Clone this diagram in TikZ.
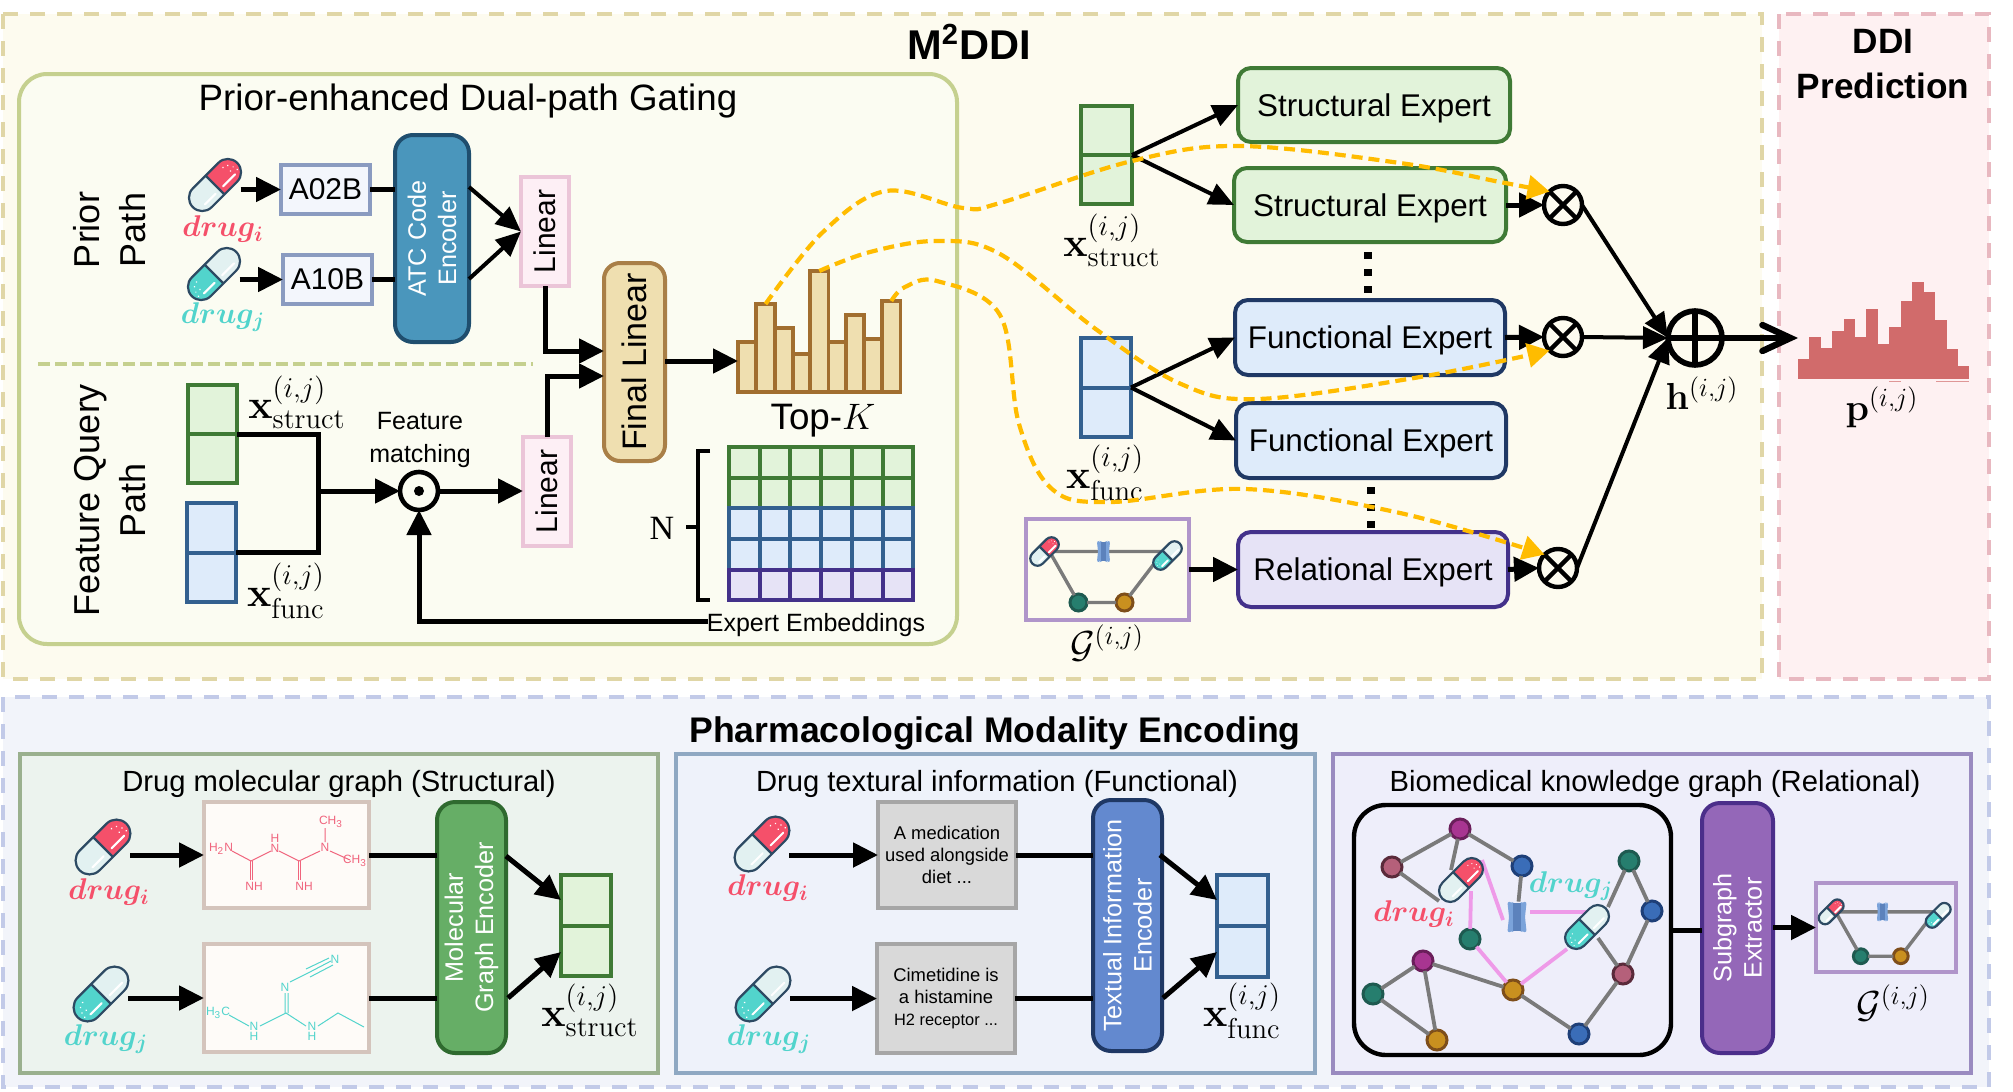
\RequirePackage{fix-cm}
\documentclass[tikz,border=0pt]{standalone}
\usepackage{amsmath}
\usepackage[no-math]{fontspec}
\setmainfont{Liberation Sans}
\newfontfamily\serfam{Liberation Serif}
\usetikzlibrary{arrows.meta}
\definecolor{topfill}{HTML}{FDFBEF}\definecolor{topdash}{HTML}{E0D6A6}
\definecolor{predfill}{HTML}{FEF1F2}\definecolor{preddash}{HTML}{E8B8C0}
\definecolor{botfill}{HTML}{F2F4FA}\definecolor{botdash}{HTML}{C2CAE8}
\definecolor{gatefill}{HTML}{FBFCF2}\definecolor{gatestroke}{HTML}{C5D08F}
\definecolor{grF}{HTML}{E2F3DA}\definecolor{grS}{HTML}{3F7A35}
\definecolor{blF}{HTML}{DEEBFA}\definecolor{blS}{HTML}{33608F}\definecolor{blD}{HTML}{1F3864}
\definecolor{puF}{HTML}{E6E3F6}\definecolor{puS}{HTML}{43318A}
\definecolor{tanF}{HTML}{EFDFB0}\definecolor{tanS}{HTML}{A97F47}\definecolor{barS}{HTML}{A16E2F}
\definecolor{linF}{HTML}{FDEFF5}\definecolor{linS}{HTML}{EBC5D8}
\definecolor{atcF}{HTML}{4A96BC}\definecolor{atcS}{HTML}{1F4E6E}
\definecolor{codeF}{HTML}{F3F6FC}\definecolor{codeS}{HTML}{8A9BC0}
\definecolor{pinkT}{HTML}{F5506A}\definecolor{cyanT}{HTML}{52D4CC}
\definecolor{paleT}{HTML}{E2F1F1}\definecolor{pillS}{HTML}{2D4A63}
\definecolor{yel}{HTML}{FFBC00}\definecolor{histc}{HTML}{D16B6B}
\definecolor{gboxS}{HTML}{B095CA}
\definecolor{p1F}{HTML}{ECF3EE}\definecolor{p1S}{HTML}{9AB08E}
\definecolor{p2F}{HTML}{EEF2FA}\definecolor{p2S}{HTML}{8FA8C2}
\definecolor{p3F}{HTML}{EEEEFA}\definecolor{p3S}{HTML}{9A8BC0}
\definecolor{molF}{HTML}{FEFBF8}\definecolor{molS}{HTML}{D4C4BC}
\definecolor{txtF}{HTML}{D9D9D9}\definecolor{txtS}{HTML}{A6A6A6}
\definecolor{enc1F}{HTML}{66AE66}\definecolor{enc1S}{HTML}{2F6A2F}
\definecolor{enc2F}{HTML}{6389CF}\definecolor{enc3F}{HTML}{9467B8}\definecolor{enc3S}{HTML}{4B2E8A}
\definecolor{molP}{HTML}{F0647D}\definecolor{molC}{HTML}{52D4CC}
\definecolor{edgeG}{HTML}{7A7A7A}\definecolor{edgeP}{HTML}{EE9AE8}
\definecolor{tealF}{HTML}{267E6E}\definecolor{tealS}{HTML}{1E5A50}
\definecolor{goldF}{HTML}{C9901F}\definecolor{goldS}{HTML}{7E4E1A}
\definecolor{magF}{HTML}{A83591}\definecolor{magS}{HTML}{6A1E5A}
\definecolor{roseF}{HTML}{B5607A}\definecolor{roseS}{HTML}{5A2A3A}
\definecolor{bluF}{HTML}{3A6DB8}\definecolor{bluS}{HTML}{1E3F78}
\definecolor{protA}{HTML}{7BA3DA}\definecolor{protB}{HTML}{5C82BC}
\newcommand{\fsz}[1]{\fontsize{#1}{#1}\selectfont}
\newcommand{\bx}[7]{%
 \pgfmathsetmacro{\bxc}{(#2+#4)/2}\pgfmathsetmacro{\byc}{(#3+#5)/2}%
 \pgfmathsetmacro{\bwd}{(#4-#2)/2}\pgfmathsetmacro{\bht}{(#5-#3)/2}%
 \node[#6,minimum width=\bwd pt,minimum height=\bht pt] (#1) at (\bxc,\byc) {#7};}
\newcommand{\rbx}[7]{%
 \pgfmathsetmacro{\bxc}{(#2+#4)/2}\pgfmathsetmacro{\byc}{(#3+#5)/2}%
 \pgfmathsetmacro{\bwd}{(#4-#2)/2}\pgfmathsetmacro{\bht}{(#5-#3)/2}%
 \node[#6,rotate=90,minimum width=\bht pt,minimum height=\bwd pt] (#1) at (\bxc,\byc) {#7};}
% pill art: name x y scale kind(1=red right, 0=cyan left)
\newcommand{\pill}[5]{%
 \pgfmathsetmacro{\psz}{27*#4}%
 \node[minimum size=\psz pt,inner sep=0pt,outer sep=0pt] (#1) at (#2,#3) {};
 \begin{scope}[shift={(#2,#3)},x=0.5pt,y=0.5pt,rotate=45,scale=#4]
  \ifnum#5=1 \def\pcl{paleT}\def\pcr{pinkT}\def\pdx{1}\else \def\pcl{cyanT}\def\pcr{paleT}\def\pdx{-1}\fi
  \fill[\pcl] (0,-14) -- (-19,-14) arc[start angle=270,end angle=90,radius=14] -- (0,14) -- cycle;
  \fill[\pcr] (0,-14) -- (19,-14) arc[start angle=-90,end angle=90,radius=14] -- (0,14) -- cycle;
  \draw[white,line width=1pt,line cap=round] (5,-7) -- (23,-7);
  \draw[white,line width=1pt,line cap=round] (-22,-7) -- (-6,-7);
  \foreach \dxx/\dyy in {24/5,27/0,22/-1,19/7,28/-5}{\fill[white] (\pdx*\dxx,\dyy) circle[radius=0.9];}
  \draw[pillS,line width=1.1pt] (-19,-14) -- (19,-14) arc[start angle=-90,end angle=90,radius=14] -- (-19,14) arc[start angle=90,end angle=270,radius=14] -- cycle (0,-14) -- (0,14);
 \end{scope}}
% protein
\newcommand{\prot}[4]{%
 \node[inner sep=0pt,minimum width=12pt,minimum height=15pt] (#1) at (#2,#3) {};
 \begin{scope}[shift={(#2,#3)},x=0.5pt,y=0.5pt,scale=#4]
  \fill[protA,rounded corners=1pt] (-12,-19) -- (-7,-19) -- (-5,-17) -- (5,-17) -- (7,-19) -- (12,-19) -- (10,0) -- (12,19) -- (7,19) -- (5,17) -- (-5,17) -- (-7,19) -- (-12,19) -- (-10,0) -- cycle;
  \fill[protB] (-5,-17) rectangle (5,17);
 \end{scope}}
\newcommand{\smallG}[4]{%
 \coordinate (#1L) at ({#2-58*#4},{#3-18*#4});
 \coordinate (#1R) at ({#2+56*#4},{#3-18*#4});
 \pgfmathsetmacro{\gsz}{8.5*#4}%
 \pgfmathsetmacro{\gps}{0.52*#4}\pgfmathsetmacro{\gpr}{0.55*#4}%
 \node[kgn,fill=tealF,draw=tealS,minimum size=\gsz pt] (#1T) at ({#2-29*#4},{#3+33*#4}) {};
 \node[kgn,fill=goldF,draw=goldS,minimum size=\gsz pt] (#1O) at ({#2+17*#4},{#3+33*#4}) {};
 \draw[edgeG,line width=1.7pt] (#1L) -- (#1R) (#1L) -- (#1T) -- (#1O) -- (#1R);
 \pgfmathsetmacro{\gxa}{#2-63*#4}\pgfmathsetmacro{\gya}{#3-18*#4}%
 \pgfmathsetmacro{\gxb}{#2+60*#4}\pgfmathsetmacro{\gyb}{#3-14*#4}%
 \pgfmathsetmacro{\gxc}{#2-4*#4}%
 \pill{#1Lp}{\gxa}{\gya}{\gps}{1}
 \pill{#1Rp}{\gxb}{\gyb}{\gps}{0}
 \prot{#1Pp}{\gxc}{\gya}{\gpr}}
\tikzset{
 pbox/.style={draw,rectangle,inner sep=0pt,outer sep=0pt,align=center},
 rbox/.style={pbox,rounded corners=6.5pt,line width=2pt},
 codebox/.style={pbox,fill=codeF,draw=codeS,line width=2pt,font=\fsz{15}},
 linbox/.style={pbox,fill=linF,draw=linS,line width=2pt,font=\fsz{15}},
 expert/.style={rbox,font=\fsz{15.7},text depth=0pt},
 conn/.style={line width=2.5pt},
 arr/.style={line width=2.5pt,-{Triangle[length=12.5pt,width=12pt]}},
 arrt/.style={line width=2pt,-{Triangle[length=12.5pt,width=11pt]}},
 yarr/.style={yel,line width=2.1pt,dash pattern=on 5.5pt off 3pt,-{Triangle[length=11pt,width=12pt]}},
 plain/.style={inner sep=0pt,outer sep=0pt,align=center},
 mlab/.style={plain,font=\fsz{18.8}},
 xlab/.style={plain,font=\fsz{20.5}},
 drugl/.style={plain,font=\fsz{15}\boldmath},
 enctext/.style={rbox,text=white,font=\fsz{12.6},rounded corners=9pt},
 kgn/.style={circle,inner sep=0pt,outer sep=0pt,minimum size=10pt,line width=1.5pt,draw},
 opn/.style={circle,draw,inner sep=0pt,outer sep=0pt,line width=2.2pt,fill=topfill,minimum size=19pt},
 egr/.style={edgeG,line width=1.9pt},
 epk/.style={edgeP,line width=1.9pt},
 pan/.style={pbox,line width=1.6pt},
 outer/.style={line width=2pt,dash pattern=on 7.5pt off 6pt},
 dots3/.style={line width=4pt,dash pattern=on 3.5pt off 5pt},
}
\begin{document}
\begin{tikzpicture}[x=0.5pt,y=-0.5pt]
\useasboundingbox (0,0) rectangle (2013,1092);
\fill[white] (0,0) rectangle (2013,1092);
% outer panels
\draw[outer,draw=topdash,fill=topfill] (3,14) rectangle (1762,679);
\draw[outer,draw=preddash,fill=predfill] (1779,14) rectangle (1989,679);
\draw[outer,draw=botdash,fill=botfill] (3,697) rectangle (1989,1087);
\node[plain,font=\bfseries\fsz{20.8}] (mddi) at (969,42) {M\textsuperscript{2}DDI};
\node[plain,font=\bfseries\fsz{17.6}] (pred) at (1883,64) {DDI\\[5pt]Prediction};
\node[plain,font=\bfseries\fsz{17.8}] (pme) at (995,733) {Pharmacological Modality Encoding};
% gating panel
\bx{gate}{19}{74}{957}{644}{pbox,draw=gatestroke,fill=gatefill,line width=2pt,rounded corners=14pt}{}
\node[plain,font=\fsz{18.35}] (gatet) at (468,101) {Prior-enhanced Dual-path Gating};
\rbx{priorl}{70}{150}{150}{310}{plain,font=\fsz{18},align=center}{Prior\\[5pt]Path}
\rbx{fqpl}{70}{380}{150}{620}{plain,font=\fsz{18},align=center}{Feature Query\\[5pt]Path}
\coordinate (sepa) at (38,364); \coordinate (sepb) at (533,364);
\draw[gatestroke,line width=1.8pt,dash pattern=on 6pt off 2.5pt] (sepa) -- (sepb);
% prior path
\pill{pa}{215}{185}{0.95}{1}
\pill{pb}{214}{274}{0.95}{0}
\node[drugl,text=pinkT] (da) at (223,229) {$drug_i$};
\node[drugl,text=cyanT] (db) at (223,317) {$drug_j$};
\bx{a02}{281}{165}{370}{214}{codebox}{A02B}
\bx{a10}{283}{255}{372}{304}{codebox}{A10B}
\rbx{atc}{395}{135}{469}{342}{rbox,fill=atcF,draw=atcS,text=white,font=\fsz{12.6},rounded corners=9pt}{ATC Code\\[2.6pt]Encoder}
\rbx{linA}{521}{177}{569}{286}{linbox}{Linear}
\rbx{linB}{523}{437}{571}{546}{linbox}{Linear}
\rbx{finl}{604}{263}{665}{461}{pbox,rounded corners=8pt,fill=tanF,draw=tanS,line width=2pt,font=\fsz{17}}{Final Linear}
\draw[arr] (pa.east |- a02.west) -- (a02.west);
\draw[arr] (pb.east |- a10.west) -- (a10.west);
\draw[conn] (a02.east) -- (a02.east -| atc.north);
\draw[conn] (a10.east) -- (a10.east -| atc.north);
\coordinate (atcu) at (469,187); \coordinate (atcd) at (469,279);
\draw[arrt] (atcu) -- (linA.north);
\draw[arrt] (atcd) -- (linA.north);
\coordinate (fa) at (604,351); \coordinate (fb) at (604,376);
\draw[arr] (linA.west) |- (fa);
\draw[arr] (linB.east) |- (fb);
% bars
\foreach \nm/\xa/\xb/\ty in {b1/738/756/342,b2/756/775/304,b3/775/793/328,b4/793/810/354,b5/810/828.5/271,b6/828.5/846/342,b7/846/864/315,b8/864/882/339,b9/882/900.5/301}{
 \bx{\nm}{\xa}{\ty}{\xb}{392}{pbox,fill=tanF,draw=barS,line width=1.8pt}{}
}
\node[plain,font=\fsz{18.4}] (topk) at (823,421) {Top-$K$};
\coordinate (barin) at (738,361);
\draw[arr] (finl.south |- barin) -- (barin);
% feature query
\bx{fs}{188}{385}{237}{483}{pbox,fill=grF,draw=grS,line width=2pt}{}
\draw[grS,line width=2pt] (fs.west) -- (fs.east);
\bx{ff}{187}{503}{236}{602}{pbox,fill=blF,draw=blS,line width=2pt}{}
\draw[blS,line width=2pt] (ff.west) -- (ff.east);
\node[xlab] (fsl) at (297,402) {$\mathbf{x}^{(i,j)}_{\mathrm{struct}}$};
\node[xlab] (ffl) at (286,591) {$\mathbf{x}^{(i,j)}_{\mathrm{func}}$};
\node[plain,font=\fsz{12.5}] (fmat) at (420,440) {Feature\\[4pt]matching};
\node[circle,draw,inner sep=0pt,outer sep=0pt,line width=2.3pt,minimum size=19pt,fill=gatefill] (dot) at (419,491) {};
\fill (dot) circle[radius=5];
\coordinate (jn) at (318,491);
\draw[conn] (fs.east) -| (jn);
\draw[conn] (ff.east) -| (jn);
\draw[arr] (jn) -- (dot.west);
\draw[arr] (dot.east) -- (linB.north |- dot.east);
% embeddings
\foreach \ya/\yb/\fc/\sc in {447/478/grF/grS,478/508/grF/grS,508/539/blF/blS,539/570/blF/blS,570/600/puF/puS}{
 \foreach \i in {0,...,5}{
  \pgfmathsetmacro{\xa}{729+30.7*\i}\pgfmathsetmacro{\xb}{\xa+30.7}
  \draw[fill=\fc,draw=\sc,line width=2pt] (\xa,\ya) rectangle (\xb,\yb);
 }}
\node[inner sep=0pt,outer sep=0pt,minimum width=92pt,minimum height=76pt] (emb) at (821,523.5) {};
\node[plain,font=\serfam\fsz{17}] (nlab) at (662,528) {N};
\coordinate (bt) at (710,451); \coordinate (bb) at (710,600); \coordinate (bm) at (686,527); \coordinate (bc) at (698,527);
\draw[line width=1.8pt] (bt) -- (698,451) -- (698,600) -- (bb);
\draw[line width=1.8pt] (bm) -- (bc);
\node[plain,font=\fsz{12.5}] (eemb) at (816,625) {Expert Embeddings};
\coordinate (eline) at (708,621);
\draw[arr] (eline) -| (dot.south);
% experts
\bx{se1}{1238}{68}{1510}{142}{expert,fill=grF,draw=grS}{Structural Expert}
\bx{se2}{1234}{168}{1506}{242}{expert,fill=grF,draw=grS}{Structural Expert}
\bx{fe1}{1235}{300}{1505}{375}{expert,fill=blF,draw=blD}{Functional Expert}
\bx{fe2}{1236}{403}{1506}{478}{expert,fill=blF,draw=blD}{Functional Expert}
\bx{re}{1238}{532}{1508}{607}{expert,fill=puF,draw=puS}{Relational Expert}
\coordinate (da1) at (1368,252); \coordinate (da2) at (1368,294);
\coordinate (db1) at (1371,487); \coordinate (db2) at (1371,529);
\draw[dots3] (da1) -- (da2);
\draw[dots3] (db1) -- (db2);
\bx{xs}{1081}{106}{1132}{204}{pbox,fill=grF,draw=grS,line width=2pt}{}
\draw[grS,line width=2pt] (xs.west) -- (xs.east);
\bx{xf}{1081}{338}{1131}{437}{pbox,fill=blF,draw=blS,line width=2pt}{}
\draw[blS,line width=2pt] (xf.west) -- (xf.east);
\node[xlab] (xsl) at (1112,240) {$\mathbf{x}^{(i,j)}_{\mathrm{struct}}$};
\node[xlab] (xfl) at (1105,473) {$\mathbf{x}^{(i,j)}_{\mathrm{func}}$};
\draw[arrt] (xs.east) -- (se1.west);
\draw[arrt] (xs.east) -- (se2.west);
\draw[arrt] (xf.east) -- (fe1.west);
\draw[arrt] (xf.east) -- (fe2.west);
\bx{gt}{1026}{519}{1189}{620}{pbox,fill=topfill,draw=gboxS,line width=2.2pt}{}
\smallG{gu}{1107.5}{569.5}{1}
\node[mlab] (gtl) at (1107,643) {$\mathcal{G}^{(i,j)}$};
\draw[arr] (gt.east |- re.west) -- (re.west);
% ops
\node[opn] (ot1) at (1563,205) {}; \draw[line width=2.2pt] (ot1.north west) -- (ot1.south east) (ot1.north east) -- (ot1.south west);
\node[opn] (ot2) at (1563,337) {}; \draw[line width=2.2pt] (ot2.north west) -- (ot2.south east) (ot2.north east) -- (ot2.south west);
\node[opn] (ot3) at (1558,568) {}; \draw[line width=2.2pt] (ot3.north west) -- (ot3.south east) (ot3.north east) -- (ot3.south west);
\node[opn,line width=2.8pt,minimum size=27pt] (opl) at (1695,338) {};
\draw[line width=2.8pt] (opl.north) -- (opl.south) (opl.west) -- (opl.east);
\draw[arr] (se2.east) -- (ot1.west);
\draw[arr] (fe1.east) -- (ot2.west);
\draw[arr] (re.east) -- (ot3.west);
\draw[arrt] (ot1.east) -- (opl.west);
\draw[arrt] (ot2.east) -- (opl.west);
\draw[arrt] (ot3.east) -- (opl.west);
\coordinate (hout) at (1798,338);
\draw[line width=2.8pt,-{Straight Barb[length=14pt,width=13pt,line width=3.2pt,line cap=round]}] (opl.east) -- (hout);
\node[mlab] (hl) at (1702,393) {$\mathbf{h}^{(i,j)}$};
% histogram
\foreach \t [count=\i from 0] in {359,337,348,331,319,337,309,344,327,301,282,292,320,349,366}{
 \pgfmathsetmacro{\xa}{1798+11.4*\i}\pgfmathsetmacro{\xb}{\xa+11.7}
 \fill[histc] (\xa,379) rectangle (\xb,\t);
}
\coordinate (hla) at (1889,381.5); \coordinate (hlb) at (1901,381.5); \coordinate (hlc) at (1936,381.5); \coordinate (hld) at (1969,381.5);
\draw[histc!70,line width=0.5pt] (hla) -- (hlb) (hlc) -- (hld);
\node[mlab] (pl) at (1882,407) {$\mathbf{p}^{(i,j)}$};
% yellow curves
\draw[yarr] plot[smooth,tension=0.6] coordinates {(b2.north) (823,232) (886,191) (963,208) (1000,203) (1132,161) (1239,146) (1400,163) (1500,182) (ot1.north west)};
\draw[yarr] plot[smooth,tension=0.6] coordinates {(b5.north) (870,252) (937,241) (1000,254) (1097,330) (1181,384) (1258,399) (1420,377) (ot2.south west)};
\draw[yarr] plot[smooth,tension=0.6] coordinates {(b9.north) (905,287) (937,281) (1000,315) (1019,424) (1052,489) (1110,502) (1245,489) (1400,513) (ot3.north west)};
% ---- lower row
\bx{p1}{20}{754}{658}{1073}{pan,fill=p1F,draw=p1S}{}
\bx{p2}{676}{754}{1315}{1073}{pan,fill=p2F,draw=p2S}{}
\bx{p3}{1333}{754}{1971}{1073}{pan,fill=p3F,draw=p3S}{}
\node[plain,font=\fsz{14.6}] (p1t) at (339,784) {Drug molecular graph (Structural)};
\node[plain,font=\fsz{14.6}] (p2t) at (997,784) {Drug textural information (Functional)};
\node[plain,font=\fsz{14.6}] (p3t) at (1655,784) {Biomedical knowledge graph (Relational)};
% structural
\pill{p1a}{103}{847}{1}{1}
\pill{p1b}{101}{994}{1}{0}
\node[drugl,text=pinkT] (p1al) at (109,892) {$drug_i$};
\node[drugl,text=cyanT] (p1bl) at (106,1039) {$drug_j$};
\bx{m1}{204}{802}{369}{908}{pbox,fill=molF,draw=molS,line width=2pt}{}
\bx{m2}{204}{944}{369}{1052}{pbox,fill=molF,draw=molS,line width=2pt}{}
\rbx{e1}{437}{802}{506}{1053}{enctext,fill=enc1F,draw=enc1S}{Molecular\\[2.6pt]Graph Encoder}
\bx{g1}{561}{875}{611}{976}{pbox,fill=grF,draw=grS,line width=2pt}{}
\draw[grS,line width=2pt] (g1.west) -- (g1.east);
\draw[arr] (p1a.east |- m1.west) -- (m1.west);
\draw[arr] (p1b.east |- m2.west) -- (m2.west);
\draw[conn] (m1.east) -- (m1.east -| e1.north);
\draw[conn] (m2.east) -- (m2.east -| e1.north);
\coordinate (e1u) at (506,856); \coordinate (e1d) at (508,998);
\coordinate (g1u) at (561,900); \coordinate (g1d) at (561,952);
\draw[arr] (e1u) -- (g1u);
\draw[arr] (e1d) -- (g1d);
\node[xlab] (g1l) at (590,1010) {$\mathbf{x}^{(i,j)}_{\mathrm{struct}}$};
% molecule 1
\draw[molP,line width=0.5pt] (232,851) -- (251,861) -- (271,851) (279,851) -- (299,861) -- (320,851) (330,851) -- (350,860) (325,842) -- (325,828);
\draw[molP,line width=0.5pt] (250,861) -- (250,880) (252,861) -- (252,880) (298,861) -- (298,880) (300,861) -- (300,880);
\foreach \nn/\xx/\yy/\tt in {ma/221/849/H\textsubscript{2}N,mb/275/848/N,mc/275/838/H,md/325/847/N,me/331/822/CH\textsubscript{3},mf/355/861/CH\textsubscript{3},mg/254/886/NH,mh/304/886/NH}{
 \node[plain,text=molP,font=\fsz{6}] (\nn) at (\xx,\yy) {\tt};}
% molecule 2
\draw[molC,line width=0.5pt] (229,1015) -- (249,1026) (260,1026) -- (286,1013) -- (306,1026) (318,1026) -- (338,1013) -- (364,1027);
\draw[molC,line width=0.5pt] (285,1013) -- (285,993) (288,1013) -- (288,993) (290,982) -- (308,973);
\draw[molC,line width=0.5pt] (308,973) -- (331,961) (306,969) -- (329,958) (310,977) -- (333,965);
\foreach \nn/\xx/\yy/\tt in {na/335/959/N,nb/285/987/N,nc/218/1013/H\textsubscript{3}C,nd/254/1026/N,ne/254/1036/H,nf/312/1026/N,ng/312/1036/H}{
 \node[plain,text=molC,font=\fsz{6}] (\nn) at (\xx,\yy) {\tt};}
% functional
\pill{p2a}{762}{844}{1}{1}
\pill{p2b}{763}{994}{1}{0}
\node[drugl,text=pinkT] (p2al) at (768,888) {$drug_i$};
\node[drugl,text=cyanT] (p2bl) at (769,1039) {$drug_j$};
\bx{t1}{878}{802}{1016}{908}{pbox,fill=txtF,draw=txtS,line width=2pt,font=\fsz{9.2}}{A medication\\[2pt]used alongside\\[2pt]diet ...}
\bx{t2}{877}{944}{1015}{1053}{pbox,fill=txtF,draw=txtS,line width=2pt,font=\fsz{9.2}}{Cimetidine is\\[2pt]a histamine\\[2pt]{\fsz{8.2}H2 receptor ...}}
\rbx{e2}{1093}{800}{1162}{1051}{enctext,fill=enc2F,draw=blD}{Textual Information\\[2.6pt]Encoder}
\bx{g2}{1217}{875}{1268}{977}{pbox,fill=blF,draw=blS,line width=2pt}{}
\draw[blS,line width=2pt] (g2.west) -- (g2.east);
\draw[arr] (p2a.east |- t1.west) -- (t1.west);
\draw[arr] (p2b.east |- t2.west) -- (t2.west);
\draw[conn] (t1.east) -- (t1.east -| e2.north);
\draw[conn] (t2.east) -- (t2.east -| e2.north);
\coordinate (e2u) at (1160,855); \coordinate (e2d) at (1163,998);
\coordinate (g2u) at (1217,900); \coordinate (g2d) at (1217,952);
\draw[arr] (e2u) -- (g2u);
\draw[arr] (e2d) -- (g2d);
\node[xlab] (g2l) at (1242,1011) {$\mathbf{x}^{(i,j)}_{\mathrm{func}}$};
% relational
\bx{kg}{1354}{805}{1671}{1055}{pbox,fill=p3F,draw=black,line width=2.2pt,rounded corners=16pt}{}
\rbx{ex}{1702}{803}{1773}{1053}{enctext,fill=enc3F,draw=enc3S}{Subgraph\\[2.6pt]Extractor}
\bx{gb}{1816}{883}{1956}{972}{pbox,fill=p3F,draw=gboxS,line width=2.2pt}{}
\smallG{gd}{1886}{927.5}{0.87}
\node[mlab] (gbl) at (1893,1003) {$\mathcal{G}^{(i,j)}$};
\draw[conn] (kg.east) -- (kg.east -| ex.north);
\draw[arr] (ex.south |- gb.west) -- (gb.west);
\foreach \nn/\xx/\yy/\fc/\sc in {ka/1460/829/magF/magS,kb/1392/867/roseF/roseS,kc/1522/866/bluF/bluS,kd/1629/861/tealF/tealS,ke/1652/911/bluF/bluS,kf/1470/939/tealF/tealS,kg2/1423/961/magF/magS,kh/1373/994/tealF/tealS,ki/1513/990/goldF/goldS,kj/1623/974/roseF/roseS,kk/1437/1040/goldF/goldS,kl/1579/1034/bluF/bluS}{
 \node[kgn,fill=\fc,draw=\sc] (\nn) at (\xx,\yy) {};}
\coordinate (pi1) at (1451,870); \coordinate (pi2) at (1439,901); \coordinate (pj1) at (1608,907); \coordinate (pj2) at (1598,938);
\coordinate (pk1) at (1482,860); \coordinate (pk2) at (1503,920); \coordinate (pk3) at (1471,891);
\coordinate (pk4) at (1530,912); \coordinate (pk5) at (1587,912); \coordinate (pk6) at (1567,949);
\draw[egr] (ka) -- (kb) (ka) -- (pi1) (ka) -- (kc) (kb) -- (pi2) (kd) -- (pj1) (kd) -- (ke) (ke) -- (kj) (kj) -- (pj2) (kj) -- (kl) (kg2) -- (kh) (kg2) -- (kk) (kh) -- (kk) (kg2) -- (ki) (ki) -- (kl);
\prot{kp}{1517}{917}{0.8}
\draw[egr] (kc) -- (kp);
\draw[epk] (pk1) -- (pk2) (pk3) -- (kf) (pk4) -- (pk5) (kf) -- (ki) (ki) -- (pk6);
\pill{kpa}{1461}{880}{0.8}{1}
\pill{kpb}{1587}{927}{0.8}{0}
\node[drugl,text=pinkT] (kal) at (1414,914) {$drug_i$};
\node[drugl,text=cyanT] (kbl) at (1571,886) {$drug_j$};
\end{tikzpicture}
\end{document}
